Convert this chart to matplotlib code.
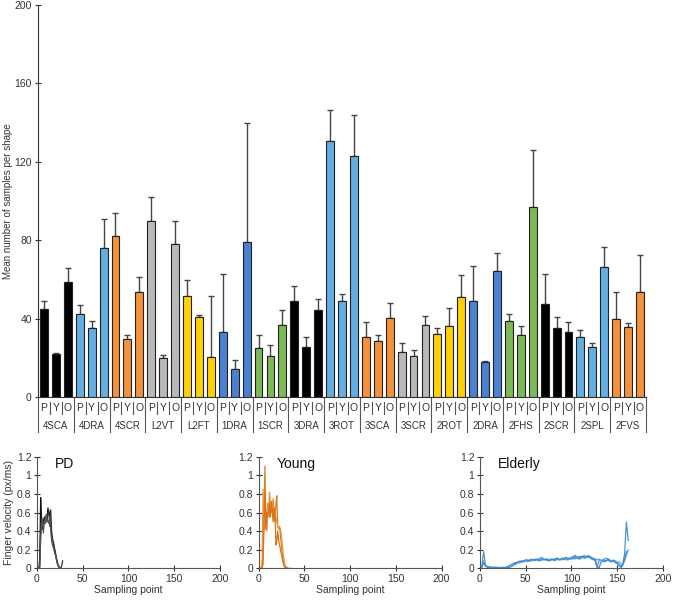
import matplotlib.pyplot as plt
import matplotlib.transforms as mtransforms
import numpy as np

plt.rcParams['font.family'] = ['Liberation Sans', 'DejaVu Sans']

# ---- bar chart data ----
shapes = ['4SCA', '4DRA', '4SCR', 'L2VT', 'L2FT', '1DRA', '1SCR', '3DRA', '3ROT',
          '3SCA', '3SCR', '2ROT', '2DRA', '2FHS', '2SCR', '2SPL', '2FVS']
groups = ['P', 'Y', 'O']

means = [
    [45.0, 22.0, 58.5],
    [42.5, 35.0, 76.0],
    [82.0, 29.5, 53.5],
    [90.0, 19.7, 78.0],
    [51.5, 41.0, 20.5],
    [33.0, 14.3, 79.0],
    [25.0, 21.0, 36.5],
    [49.0, 25.5, 44.2],
    [130.4, 49.0, 122.8],
    [30.5, 28.5, 40.3],
    [23.0, 21.0, 36.5],
    [32.0, 36.2, 51.0],
    [49.0, 18.0, 64.0],
    [38.5, 31.5, 97.0],
    [47.6, 35.0, 33.3],
    [30.6, 25.5, 66.3],
    [40.0, 35.5, 53.4],
]
errs = [
    [4.0, 0.5, 7.5],
    [4.5, 3.8, 15.0],
    [12.0, 2.0, 7.5],
    [12.0, 1.8, 12.0],
    [8.0, 0.8, 31.0],
    [29.5, 4.7, 61.0],
    [6.8, 5.4, 8.1],
    [7.5, 5.1, 5.8],
    [16.0, 3.7, 21.2],
    [7.8, 3.3, 7.7],
    [4.4, 3.0, 4.7],
    [3.2, 9.4, 11.4],
    [18.0, 0.3, 9.6],
    [3.8, 4.7, 29.0],
    [15.3, 5.6, 5.0],
    [3.6, 1.9, 10.1],
    [13.6, 2.3, 19.0],
]
shape_colors = ['#000000', '#63aee3', '#f3923a', '#b9b9b9', '#ffd100', '#4b81d1',
                '#7cba57', '#000000', '#63aee3', '#f3923a', '#b9b9b9', '#ffd100',
                '#4b81d1', '#7cba57', '#000000', '#63aee3', '#f3923a']

# ---- velocity traces ----
pd_traces = [
    [0, 0, 0, 0.02, 0.76, 0.5, 0.42, 0.5, 0.55, 0.52, 0.5, 0.55, 0.65, 0.58, 0.6,
     0.5, 0.35, 0.3, 0.28, 0.22, 0.18, 0.12, 0.08, 0.04, 0.02, 0, 0],
    [0, 0, 0, 0.1, 0.4, 0.55, 0.5, 0.48, 0.52, 0.56, 0.55, 0.5, 0.6, 0.62, 0.45,
     0.63, 0.4, 0.32, 0.26, 0.2, 0.15, 0.12, 0.06, 0.03, 0.01, 0, 0, 0.03, 0.08],
    [0, 0, 0, 0, 0.3, 0.45, 0.52, 0.38, 0.5, 0.48, 0.58, 0.5, 0.52, 0.48, 0.55,
     0.4, 0.3, 0.25, 0.22, 0.18, 0.15, 0.1, 0.06, 0.03, 0.01, 0],
]
young_traces = [
    [0, 0, 0, 0, 0, 0.2, 0.6, 1.1, 0.5, 0.4, 0.6, 0.65, 0.55, 0.7, 0.65, 0.6, 0.72,
     0.6, 0.5, 0.7, 0.78, 0.45, 0.44, 0.45, 0.35, 0.25, 0.15, 0.08, 0.03, 0.01, 0],
    [0, 0, 0, 0, 0.1, 0.85, 0.4, 0.5, 0.55, 0.6, 0.7, 0.62, 0.82, 0.7, 0.6, 0.65,
     0.75, 0.55, 0.62, 0.55, 0.5, 0.45, 0.42, 0.44, 0.42, 0.35, 0.25, 0.15, 0.08,
     0.03, 0.02, 0.01, 0],
    [0, 0, 0, 0, 0, 0.05, 0.5, 0.8, 0.42, 0.6, 0.55, 0.62, 0.7, 0.55, 0.72, 0.6,
     0.5, 0.65, 0.6, 0.25, 0.3, 0.4, 0.3, 0.25, 0.2, 0.15, 0.1, 0.05, 0.02, 0.01,
     0.01, 0, 0, 0, 0, 0],
]
# elderly traces sampled every 2nd point
elderly_traces = [
    [0, 0.02, 0.18, 0.03, 0.01, 0.02, 0.01, 0.01, 0.01, 0.01,
     0.005, 0.005, 0.01, 0.005, 0.01, 0.02, 0.03, 0.04, 0.05, 0.06,
     0.06, 0.07, 0.07, 0.08, 0.08, 0.09, 0.08, 0.09, 0.08, 0.09,
     0.10, 0.09, 0.10, 0.11, 0.09, 0.10, 0.09, 0.10, 0.09, 0.10,
     0.09, 0.10, 0.11, 0.09, 0.10, 0.10, 0.11, 0.09, 0.11, 0.10,
     0.12, 0.13, 0.10, 0.12, 0.11, 0.13, 0.12, 0.14, 0.11, 0.13,
     0.12, 0.10, 0.11, 0.08, 0.01, 0.08, 0.09, 0.08, 0.07, 0.08,
     0.09, 0.08, 0.07, 0.08, 0.06, 0.05, 0.04, 0.02, 0.05, 0.15,
     0.50, 0.30],
    [0, 0.01, 0.08, 0.02, 0.01, 0.01, 0.01, 0.01, 0.005, 0.005,
     0.005, 0.01, 0.005, 0.01, 0.01, 0.01, 0.02, 0.02, 0.03, 0.04,
     0.05, 0.06, 0.06, 0.07, 0.07, 0.08, 0.07, 0.08, 0.08, 0.09,
     0.08, 0.09, 0.08, 0.10, 0.12, 0.09, 0.10, 0.08, 0.09, 0.10,
     0.09, 0.08, 0.10, 0.09, 0.10, 0.09, 0.10, 0.10, 0.09, 0.10,
     0.11, 0.10, 0.12, 0.11, 0.13, 0.10, 0.12, 0.11, 0.12, 0.14,
     0.11, 0.12, 0.10, 0.10, 0.09, 0.10, 0.08, 0.09, 0.10, 0.11,
     0.10, 0.09, 0.08, 0.07, 0.08, 0.06, 0.07, 0.05, 0.04, 0.08,
     0.14, 0.20],
    [0, 0.01, 0.06, 0.03, 0.02, 0.01, 0.01, 0.01, 0.01, 0.01,
     0.01, 0.005, 0.01, 0.01, 0.005, 0.01, 0.01, 0.02, 0.03, 0.05,
     0.06, 0.07, 0.08, 0.07, 0.08, 0.09, 0.09, 0.08, 0.10, 0.09,
     0.09, 0.10, 0.09, 0.08, 0.10, 0.09, 0.10, 0.09, 0.08, 0.09,
     0.10, 0.09, 0.11, 0.10, 0.09, 0.11, 0.10, 0.12, 0.10, 0.11,
     0.10, 0.11, 0.14, 0.12, 0.10, 0.12, 0.13, 0.11, 0.13, 0.12,
     0.13, 0.11, 0.09, 0.10, 0.02, 0.00, 0.06, 0.08, 0.09, 0.08,
     0.10, 0.07, 0.08, 0.09, 0.07, 0.06, 0.03, 0.01, 0.03, 0.10,
     0.18],
]

fig = plt.figure(figsize=(6.75, 6.03), dpi=100)

# ---- top: bar chart ----
ax = fig.add_axes([0.0563, 0.3418, 0.9007, 0.6499])
n_groups = len(groups)
for i, shape in enumerate(shapes):
    xs = i * n_groups + np.arange(n_groups)
    m = np.array(means[i])
    e = np.array(errs[i])
    ax.bar(xs, m, width=0.66, color=shape_colors[i], edgecolor='#222222', linewidth=0.8, zorder=2)
    ax.errorbar(xs, m, yerr=[np.zeros_like(e), e], fmt='none', ecolor='#444444',
                elinewidth=1.0, capsize=2.5, capthick=1.0, zorder=1)

n_bars = len(shapes) * n_groups
ax.set_xlim(-0.5, n_bars - 0.5)
ax.set_ylim(0, 200)
ax.set_yticks(np.arange(0, 201, 40))
ax.set_xticks([])
ax.tick_params(axis='y', direction='inout', length=5, width=0.8, labelsize=7.5, colors='#333333', pad=2)
for s in ['top', 'right']:
    ax.spines[s].set_visible(False)
ax.spines['left'].set_color('#333333')
ax.spines['bottom'].set_color('#333333')
ax.set_ylabel('Mean number of samples per shape', fontsize=7, color='#333333', labelpad=1)

# category table under the bars
trans = mtransforms.blended_transform_factory(ax.transData, ax.transAxes)
for k in range(n_bars + 1):
    xline = k - 0.5
    if k % n_groups == 0:
        ax.plot([xline, xline], [0, -0.089], transform=trans, color='#555555', lw=0.8, clip_on=False)
    else:
        ax.plot([xline, xline], [-0.013, -0.043], transform=trans, color='#555555', lw=0.8, clip_on=False)
for i, shape in enumerate(shapes):
    for j, g in enumerate(groups):
        ax.text(i * n_groups + j, -0.028, g, transform=trans, ha='center', va='center',
                fontsize=7.5, color='#333333')
    ax.text(i * n_groups + 1, -0.075, shape, transform=trans, ha='center', va='center',
            fontsize=7, color='#333333')

# ---- bottom: velocity panels ----
panels = [
    ('PD', pd_traces, 1, ['#111111', '#333333', '#555555'], 0.0548),
    ('Young', young_traces, 1, ['#e0801f', '#e8923a', '#d9741a'], 0.3830),
    ('Elderly', elderly_traces, 2, ['#4a95d6', '#5aa3e0', '#3f8acb'], 0.7111),
]
for title, traces, step, cols, left in panels:
    axl = fig.add_axes([left, 0.0575, 0.2711, 0.1851])
    for tr, c in zip(traces, cols):
        xs = np.arange(len(tr)) * step
        axl.plot(xs, tr, color=c, lw=0.9)
    axl.set_xlim(0, 200)
    axl.set_ylim(0, 1.2)
    axl.set_xticks(np.arange(0, 201, 50))
    axl.set_yticks(np.arange(0, 1.21, 0.2))
    axl.set_yticklabels(['%g' % v for v in np.round(np.arange(0, 1.21, 0.2), 1)])
    axl.tick_params(direction='inout', length=4, width=0.8, labelsize=7.5, colors='#333333', pad=2)
    for s in ['top', 'right']:
        axl.spines[s].set_visible(False)
    axl.spines['left'].set_color('#555555')
    axl.spines['bottom'].set_color('#555555')
    axl.set_xlabel('Sampling point', fontsize=7.5, color='#333333', labelpad=1)
    axl.text(0.1, 1.0, title, transform=axl.transAxes, fontsize=10, va='top', ha='left', color='#111111')
    if title == 'PD':
        axl.set_ylabel('Finger velocity (px/ms)', fontsize=7.5, color='#333333', labelpad=2)

fig.savefig('out.png', dpi=100)
